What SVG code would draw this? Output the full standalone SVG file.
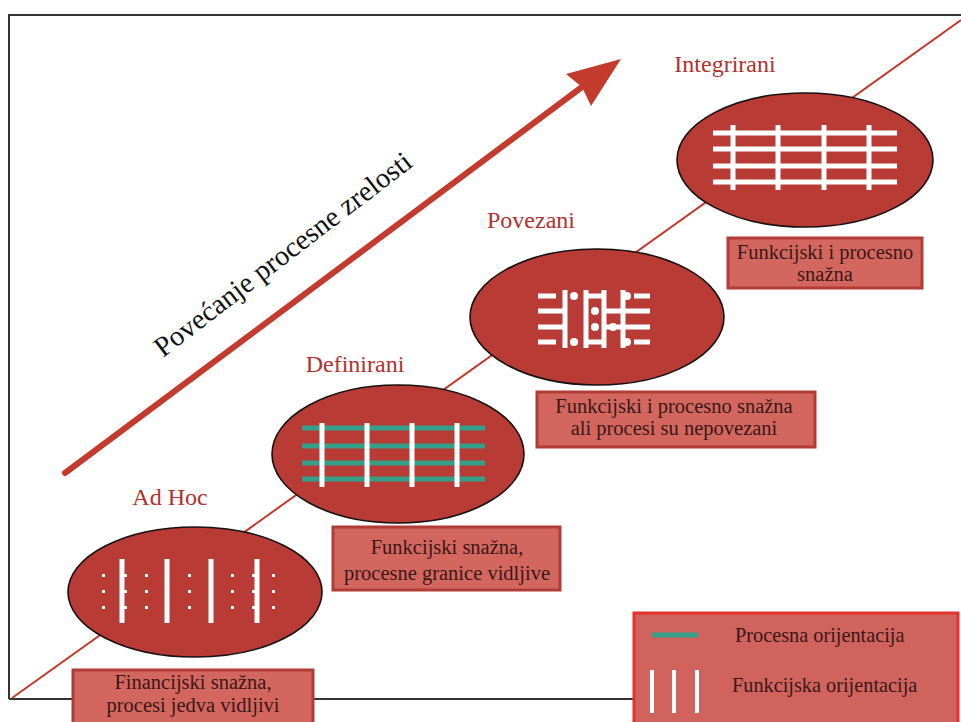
<svg xmlns="http://www.w3.org/2000/svg" width="961" height="722" viewBox="0 0 961 722">
<style>
.ell{fill:#b93b36;stroke:#161010;stroke-width:1.6}
.box{fill:#d3665f;stroke:#b23d37;stroke-width:3}
.bt{font-family:"Liberation Serif","DejaVu Serif",serif;font-size:20.5px;fill:#3b1816;text-anchor:middle}
.lbl{font-family:"Liberation Serif","DejaVu Serif",serif;font-size:24px;fill:#b3312d;text-anchor:middle}
.wv{stroke:#ffffff;stroke-width:5}
.wh{stroke:#ffffff;stroke-width:5}
.th{stroke:#34a08a;stroke-width:5}
.dot{fill:#ffffff}
.lt{font-family:"Liberation Serif","DejaVu Serif",serif;font-size:20.3px;fill:#3b1816}
.at{font-family:"Liberation Serif","DejaVu Serif",serif;font-size:28.5px;fill:#111111}
</style>
<rect x="0" y="0" width="961" height="722" fill="#ffffff"/>
<g id="frame">
<path d="M9 699 V15 H961" fill="none" stroke="#333" stroke-width="2"/>
<line x1="9" y1="699" x2="636" y2="699" stroke="#333" stroke-width="2"/>
</g>
<g id="connectors">
<line x1="12" y1="698" x2="961" y2="20" stroke="#c0392b" stroke-width="2"/>
</g>
<g id="arrow">
<line x1="65" y1="473" x2="586" y2="84" stroke="#c23b2c" stroke-width="6" stroke-linecap="round"/>
<polygon points="621,59 566,74 582,87 591,106" fill="#c23b2c"/>
<text class="at" x="0" y="0" transform="translate(163 358) rotate(-37.5)">Povećanje procesne zrelosti</text>
</g>
<g id="adhoc">
<text class="lbl" x="170" y="505">Ad Hoc</text>
<ellipse class="ell" cx="195" cy="592" rx="127" ry="65"/>
<g class="wv">
<line x1="122" y1="559" x2="122" y2="623"/>
<line x1="167" y1="559" x2="167" y2="623"/>
<line x1="211" y1="559" x2="211" y2="623"/>
<line x1="257" y1="559" x2="257" y2="623"/>
</g>
<g class="dot">
<rect x="102" y="574" width="3" height="3"/><rect x="102" y="590" width="3" height="3"/><rect x="102" y="606" width="3" height="3"/>
<rect x="124" y="574" width="3" height="3"/><rect x="124" y="590" width="3" height="3"/><rect x="124" y="606" width="3" height="3"/>
<rect x="145" y="574" width="3" height="3"/><rect x="145" y="590" width="3" height="3"/><rect x="145" y="606" width="3" height="3"/>
<rect x="188" y="574" width="3" height="3"/><rect x="188" y="590" width="3" height="3"/><rect x="188" y="606" width="3" height="3"/>
<rect x="231" y="574" width="3" height="3"/><rect x="231" y="590" width="3" height="3"/><rect x="231" y="606" width="3" height="3"/>
<rect x="252" y="574" width="3" height="3"/><rect x="252" y="590" width="3" height="3"/><rect x="252" y="606" width="3" height="3"/>
<rect x="272" y="574" width="3" height="3"/><rect x="272" y="590" width="3" height="3"/><rect x="272" y="606" width="3" height="3"/>
</g>
<rect class="box" x="73" y="670" width="240" height="60"/>
<text class="bt" x="193" y="689">Financijski snažna,</text>
<text class="bt" x="193" y="712">procesi jedva vidljivi</text>
</g>
<g id="definirani">
<text class="lbl" x="355" y="372">Definirani</text>
<ellipse class="ell" cx="398" cy="454" rx="126" ry="69"/>
<g class="th">
<line x1="302" y1="428" x2="485" y2="428"/>
<line x1="302" y1="446" x2="485" y2="446"/>
<line x1="302" y1="463" x2="485" y2="463"/>
<line x1="302" y1="479" x2="485" y2="479"/>
</g>
<g class="wv" stroke-width="6">
<line x1="322" y1="423" x2="322" y2="487"/>
<line x1="367" y1="423" x2="367" y2="487"/>
<line x1="412" y1="423" x2="412" y2="487"/>
<line x1="457" y1="423" x2="457" y2="487"/>
</g>
<rect class="box" x="333" y="527" width="227" height="63"/>
<text class="bt" x="447" y="554">Funkcijski snažna,</text>
<text class="bt" x="447" y="580">procesne granice vidljive</text>
</g>
<g id="povezani">
<text class="lbl" x="531" y="228">Povezani</text>
<ellipse class="ell" cx="597" cy="317" rx="127" ry="68"/>
<g class="wh" stroke-width="4">
<line x1="538" y1="296" x2="556" y2="296"/>
<line x1="538" y1="311" x2="565" y2="311"/>
<line x1="538" y1="327" x2="565" y2="327"/>
<line x1="538" y1="342" x2="556" y2="342"/>
<line x1="565" y1="290" x2="565" y2="348"/>
<line x1="586" y1="290" x2="586" y2="348"/>
<line x1="604" y1="290" x2="604" y2="348"/>
<line x1="623" y1="290" x2="623" y2="348"/>
<line x1="586" y1="296" x2="604" y2="296"/>
<line x1="586" y1="342" x2="604" y2="342"/>
<line x1="604" y1="311" x2="650" y2="311"/>
<line x1="604" y1="327" x2="650" y2="327"/>
<line x1="634" y1="296" x2="650" y2="296"/>
<line x1="634" y1="342" x2="650" y2="342"/>
</g>
<g class="dot">
<circle cx="574" cy="296" r="4"/><circle cx="574" cy="342" r="4"/>
<circle cx="595" cy="311" r="4"/><circle cx="595" cy="327" r="4"/>
<circle cx="613" cy="327" r="4"/>
<circle cx="627" cy="296" r="4"/><circle cx="627" cy="342" r="4"/>
</g>
<rect class="box" x="537" y="392" width="278" height="55"/>
<text class="bt" x="674" y="413">Funkcijski i procesno snažna</text>
<text class="bt" x="674" y="435">ali procesi su nepovezani</text>
</g>
<g id="integrirani">
<text class="lbl" x="725" y="72">Integrirani</text>
<ellipse class="ell" cx="805" cy="160" rx="128" ry="67"/>
<g class="wh" stroke-width="6">
<line x1="713" y1="133" x2="897" y2="133"/>
<line x1="713" y1="149" x2="897" y2="149"/>
<line x1="713" y1="166" x2="897" y2="166"/>
<line x1="713" y1="182" x2="897" y2="182"/>
</g>
<g class="wv">
<line x1="733" y1="125" x2="733" y2="190"/>
<line x1="778" y1="125" x2="778" y2="190"/>
<line x1="824" y1="125" x2="824" y2="190"/>
<line x1="869" y1="125" x2="869" y2="190"/>
</g>
<rect class="box" x="728" y="238" width="194" height="50"/>
<text class="bt" x="825" y="259">Funkcijski i procesno</text>
<text class="bt" x="825" y="281">snažna</text>
</g>
<g id="legend">
<rect x="634" y="613" width="324" height="120" fill="#d0635e" stroke="#e2332c" stroke-width="3"/>
<line x1="652" y1="635" x2="698" y2="635" stroke="#34a08a" stroke-width="5"/>
<text class="lt" x="735" y="642">Procesna orijentacija</text>
<g stroke="#ffffff" stroke-width="4">
<line x1="652" y1="670" x2="652" y2="713"/>
<line x1="674" y1="670" x2="674" y2="713"/>
<line x1="697" y1="670" x2="697" y2="713"/>
</g>
<text class="lt" x="732" y="692">Funkcijska orijentacija</text>
</g>
</svg>
